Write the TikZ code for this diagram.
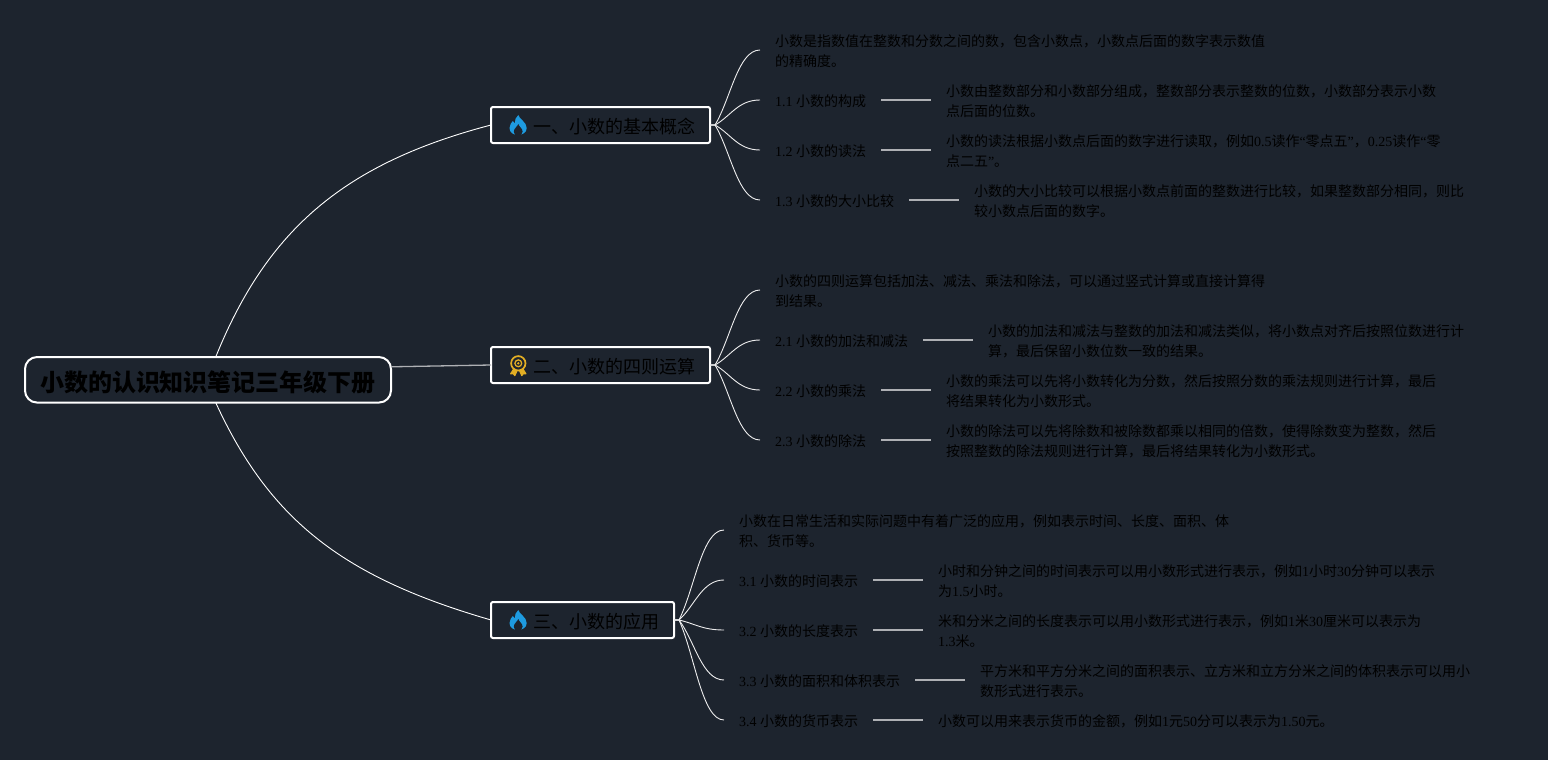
\documentclass[tikz,border=0pt]{standalone}
\usepackage{fontspec}
\setmainfont{Noto Sans CJK SC}
\newfontfamily\latinf{Liberation Serif}
\newcommand\ltn[1]{{\latinf #1}}
\usetikzlibrary{positioning,calc}
\definecolor{bgc}{HTML}{1D242E}
\definecolor{flameblue}{HTML}{1E9BE0}
\definecolor{medalgold}{HTML}{E2AE24}
\newcommand\flameicon[2]{\begin{scope}[shift={(#1,#2)}]
\fill[flameblue] (0.3,-10) .. controls (1,-6) and (8.7,-3) .. (8.7,3) .. controls (8.7,7.5) and (4.5,10) .. (0,10) .. controls (-4.5,10) and (-8.5,7.5) .. (-8.5,3) .. controls (-8.5,-0.5) and (-6.5,-2) .. (-5.2,-4) .. controls (-4.6,-2.5) and (-4,-2) .. (-3.2,-1.5) .. controls (-3.5,-5) and (-2,-8) .. (0.3,-10) -- cycle;
\fill[bgc] (0.3,-1) .. controls (0.8,1.5) and (4.6,3.5) .. (4.6,6.5) .. controls (4.6,8) and (4,9) .. (3.2,10) -- (-3,10) .. controls (-3.8,9) and (-4.2,8) .. (-4.2,6.5) .. controls (-4.2,3.5) and (-0.5,1.5) .. (0.3,-1) -- cycle;
\end{scope}}
\newcommand\medalicon[2]{\begin{scope}[shift={(#1,#2)}]
\draw[medalgold,line width=1.7pt] (0,-2.5) circle[radius=7.2];
\draw[medalgold,line width=1.3pt] (0,-2.5) circle[radius=3.4];
\fill[medalgold] (0,-2.5) circle[radius=1.3];
\draw[medalgold,fill=medalgold,line width=1.2pt,line join=round] (-4.8,3.5) -- (-7.6,8) -- (-5,7.8) -- (-3.5,9.8) -- (-1.4,5.2) -- cycle;
\draw[medalgold,fill=medalgold,line width=1.2pt,line join=round] (4.8,3.5) -- (7.6,8) -- (5,7.8) -- (3.5,9.8) -- (1.4,5.2) -- cycle;
\end{scope}}
\tikzset{
 rootbox/.style={draw=white,line width=2pt,rounded corners=12pt,inner sep=0pt,outer sep=0pt,minimum width=366pt,minimum height=45.5pt,text=black,text height=23.4pt,text depth=0.8pt,font=\fontsize{24}{30}\selectfont\bfseries},
 catbox/.style={draw=white,line width=2pt,rounded corners=2pt,inner ysep=0pt,inner xsep=15pt,outer sep=0pt,minimum height=36pt,text=black,text height=17.4pt,text depth=0.8pt,font=\fontsize{18}{24}\selectfont},
 txt/.style={inner xsep=15pt,inner ysep=0pt,outer sep=0pt,align=left,text=black,font=\fontsize{14}{20}\selectfont},
 mainlink/.style={draw=white,line width=0.9pt},
 sublink/.style={draw=white!92!bgc,line width=0.9pt},
 barlink/.style={draw=white!64!bgc,line width=1.6pt},
 gap/.style={right=50pt of #1}
}
\begin{document}
\begin{tikzpicture}[x=1pt,y=-1pt]
\useasboundingbox (0,0) rectangle (1548,760);
\fill[bgc] (0,0) rectangle (1548,760);

\node[rootbox] (root) at (208,379.8) {小数的认识知识笔记三年级下册};
\node[catbox,anchor=west] (a) at (491,125) {\hspace*{27pt}一、小数的基本概念};
\node[catbox,anchor=west] (b) at (491,365) {\hspace*{27pt}二、小数的四则运算};
\node[catbox,anchor=west] (c) at (491,620) {\hspace*{27pt}三、小数的应用};
\flameicon{518}{125}
\medalicon{518.3}{365.8}
\flameicon{518}{620}

\node[txt,anchor=west] (a0) at (760,51.3) {小数是指数值在整数和分数之间的数，包含小数点，小数点后面的数字表示数值\\的精确度。};
\node[txt,anchor=west] (a1) at (760,101.3) {\ltn{1.1 }小数的构成};
\node[txt,gap=a1] (a1d) {小数由整数部分和小数部分组成，整数部分表示整数的位数，小数部分表示小数\\点后面的位数。};
\node[txt,anchor=west] (a2) at (760,151.3) {\ltn{1.2 }小数的读法};
\node[txt,gap=a2] (a2d) {小数的读法根据小数点后面的数字进行读取，例如\ltn{0.5}读作\ltn{“}零点五\ltn{”}，\ltn{0.25}读作\ltn{“}零\\点二五\ltn{”}。};
\node[txt,anchor=west] (a3) at (760,201.3) {\ltn{1.3 }小数的大小比较};
\node[txt,gap=a3] (a3d) {小数的大小比较可以根据小数点前面的整数进行比较，如果整数部分相同，则比\\较小数点后面的数字。};

\node[txt,anchor=west] (b0) at (760,291.3) {小数的四则运算包括加法、减法、乘法和除法，可以通过竖式计算或直接计算得\\到结果。};
\node[txt,anchor=west] (b1) at (760,341.3) {\ltn{2.1 }小数的加法和减法};
\node[txt,gap=b1] (b1d) {小数的加法和减法与整数的加法和减法类似，将小数点对齐后按照位数进行计\\算，最后保留小数位数一致的结果。};
\node[txt,anchor=west] (b2) at (760,391.3) {\ltn{2.2 }小数的乘法};
\node[txt,gap=b2] (b2d) {小数的乘法可以先将小数转化为分数，然后按照分数的乘法规则进行计算，最后\\将结果转化为小数形式。};
\node[txt,anchor=west] (b3) at (760,441.3) {\ltn{2.3 }小数的除法};
\node[txt,gap=b3] (b3d) {小数的除法可以先将除数和被除数都乘以相同的倍数，使得除数变为整数，然后\\按照整数的除法规则进行计算，最后将结果转化为小数形式。};

\node[txt,anchor=west] (c0) at (724,531.3) {小数在日常生活和实际问题中有着广泛的应用，例如表示时间、长度、面积、体\\积、货币等。};
\node[txt,anchor=west] (c1) at (724,581.3) {\ltn{3.1 }小数的时间表示};
\node[txt,gap=c1] (c1d) {小时和分钟之间的时间表示可以用小数形式进行表示，例如\ltn{1}小时\ltn{30}分钟可以表示\\为\ltn{1.5}小时。};
\node[txt,anchor=west] (c2) at (724,631.3) {\ltn{3.2 }小数的长度表示};
\node[txt,gap=c2] (c2d) {米和分米之间的长度表示可以用小数形式进行表示，例如\ltn{1}米\ltn{30}厘米可以表示为\\\ltn{1.3}米。};
\node[txt,anchor=west] (c3) at (724,681.3) {\ltn{3.3 }小数的面积和体积表示};
\node[txt,gap=c3] (c3d) {平方米和平方分米之间的面积表示、立方米和立方分米之间的体积表示可以用小\\数形式进行表示。};
\node[txt,anchor=west] (c4) at (724,721.3) {\ltn{3.4 }小数的货币表示};
\node[txt,gap=c4] (c4d) {小数可以用来表示货币的金额，例如\ltn{1}元\ltn{50}分可以表示为\ltn{1.50}元。};

\draw[mainlink] ([xshift=7.7pt]root.north) .. controls +(52,-129) and +(-145,38) .. (a.west);
\draw[barlink,line width=1.3pt] ([yshift=13pt]root.east) -- (b.west);
\draw[mainlink] ([xshift=7.7pt]root.south) .. controls +(55,120) and +(-145,-42) .. (c.west);

\foreach \hub/\kids in {a/{a0,a1,a2,a3},b/{b0,b1,b2,b3},c/{c0,c1,c2,c3,c4}}
 \foreach \k in \kids {
  \coordinate (s) at ([xshift=5pt]\hub.east);
  \coordinate (e) at ([yshift=1.3pt]\k.west);
  \draw[sublink] (\hub.east) -- (s) .. controls ($(s)!0.35!(e)$) and ($(e)+(-22,0)$) .. (e);
 }

\foreach \k in {a1,a2,a3,b1,b2,b3,c1,c2,c3,c4}
 \draw[barlink] ([yshift=1.3pt]\k.east) -- ([yshift=1.3pt]\k d.west);
\end{tikzpicture}
\end{document}
